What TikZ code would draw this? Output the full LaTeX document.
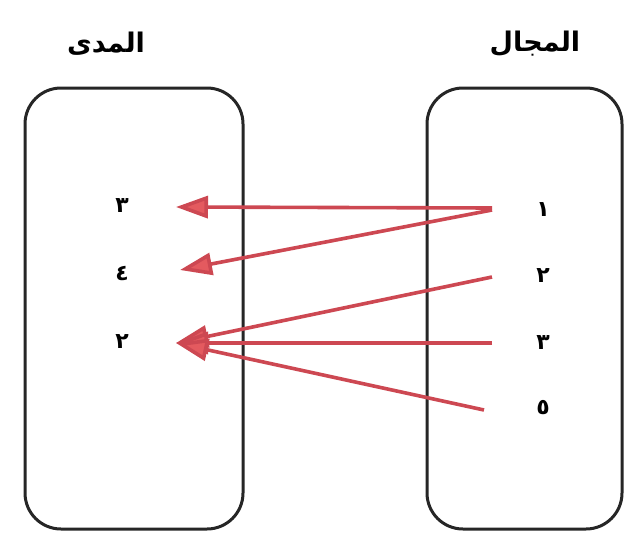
\documentclass[tikz,border=0pt]{standalone}
\usepackage{fontspec}
\TeXXeTstate=1
\newfontfamily\arabicfont[Script=Arabic]{DejaVu Sans}
\usetikzlibrary{arrows.meta}
\definecolor{arrowred}{RGB}{205,72,82}
\definecolor{headred}{RGB}{228,90,95}
\tikzset{
  setbox/.style={draw=black!85, line width=3pt, rounded corners=36pt},
  heading/.style={font=\arabicfont\bfseries\fontsize{27}{30}\selectfont},
  digit/.style={font=\arabicfont\bfseries\fontsize{22}{24}\selectfont},
  maparrow/.style={draw=arrowred, line width=3.6pt,
    -{Triangle[length=32pt,width=22pt,fill=headred]}, shorten >=0pt}
}
\begin{document}
\begin{tikzpicture}[x=1pt,y=-1pt]
\fill[white] (0,0) rectangle (626,535);
\useasboundingbox (0,0) rectangle (626,535);
% boxes
\draw[setbox] (25,88) rectangle (243,529);
\draw[setbox] (427,88) rectangle (622,529);
% headings
\node[heading] (range) at (106,44) {\beginR المدى\endR};
\node[heading] (domain) at (535,44) {\beginR المجال\endR};
% left digits
\node[digit] (r3) at (122,206) {٣};
\node[digit] (r4) at (122,274) {٤};
\node[digit] (r2) at (122,342) {٢};
% right digits
\node[digit] (d1) at (543,210) {١};
\node[digit] (d2) at (543,276) {٢};
\node[digit] (d3) at (543,343) {٣};
\node[digit] (d5) at (543,408) {٥};
% arrow start and end points
\coordinate (s1) at (492,208);
\coordinate (s1b) at (492,210);
\coordinate (s2) at (492,277);
\coordinate (s3) at (492,343);
\coordinate (s5) at (484,410);
\coordinate (e3) at (176,207);
\coordinate (e4) at (180,270);
\coordinate (e2) at (176,343);
% arrows
\draw[maparrow] (s1) -- (e3);
\draw[maparrow] (s1b) -- (e4);
\draw[maparrow] (s2) -- (e2);
\draw[maparrow] (s3) -- (e2);
\draw[maparrow] (s5) -- (e2);
\end{tikzpicture}
\end{document}
